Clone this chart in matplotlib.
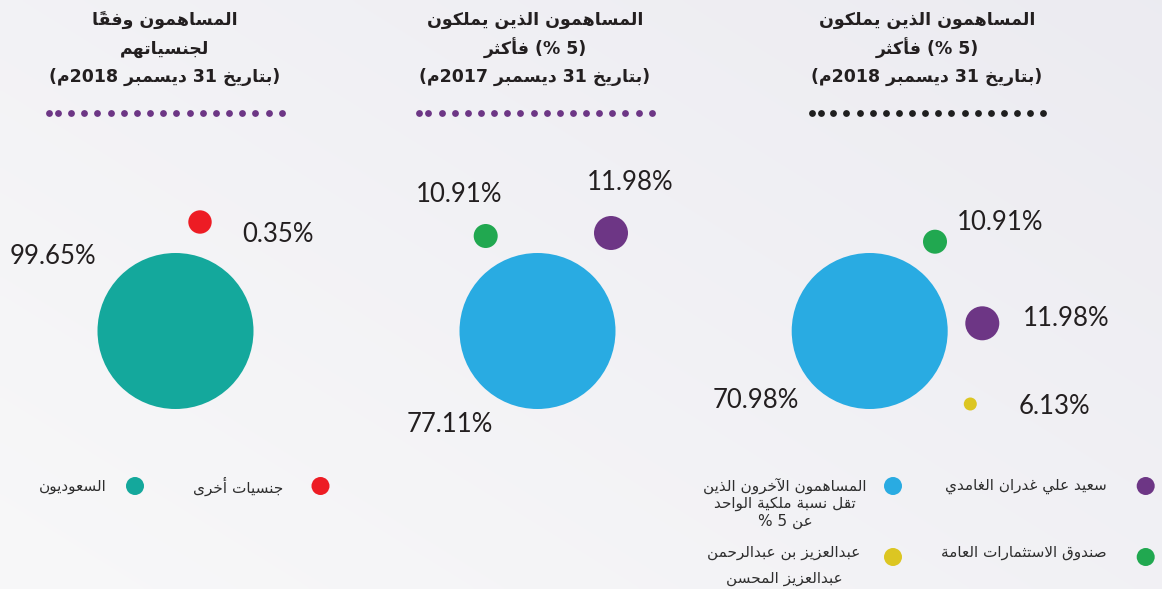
import numpy as np
import matplotlib
matplotlib.use("Agg")
import matplotlib.pyplot as plt
from matplotlib.patches import Circle

# --- data -------------------------------------------------------------
nat_labels = ["السعوديون", "جنسيات أخرى"]
nat_values = [99.65, 0.35]

own17_labels = ["المساهمون الآخرون الذين تقل نسبة ملكية الواحد عن 5 %",
                "صندوق الاستثمارات العامة", "سعيد علي غدران الغامدي"]
own17_values = [77.11, 10.91, 11.98]

own18_labels = ["المساهمون الآخرون الذين تقل نسبة ملكية الواحد عن 5 %",
                "صندوق الاستثمارات العامة", "سعيد علي غدران الغامدي",
                "عبدالعزيز بن عبدالرحمن عبدالعزيز المحسن"]
own18_values = [70.98, 10.91, 11.98, 6.13]

titles = [
    ["المساهمون وفقاً", "لجنسياتهم", "(بتاريخ 31 ديسمبر 2018م)"],
    ["المساهمون الذين يملكون", "(5 %) فأكثر", "(بتاريخ 31 ديسمبر 2017م)"],
    ["المساهمون الذين يملكون", "(5 %) فأكثر", "(بتاريخ 31 ديسمبر 2018م)"],
]

# --- styling / layout (pixel units) ------------------------------------
TEAL, RED, BLUE = "#14a89c", "#ed1c24", "#29abe2"
GREEN, PURPLE, YELLOW = "#21a850", "#6d3685", "#dcc622"
INK = "#231f20"

nat_colors = [TEAL, RED]
nat_bubbles = [(175.5, 331, 78), (200, 222, 11.7)]
nat_texts = [(10, 256), (242, 235)]

own17_colors = [BLUE, GREEN, PURPLE]
own17_bubbles = [(537.5, 331, 78), (485.7, 236, 12), (611, 233, 17)]
own17_texts = [(407, 424), (416, 194), (587, 183)]

own18_colors = [BLUE, GREEN, PURPLE, YELLOW]
own18_bubbles = [(869.7, 331, 78), (935, 241.7, 12), (982.3, 323.3, 17), (970.3, 404, 6.5)]
own18_texts = [(713, 401), (957, 223), (1023, 318), (1019, 406)]


# --- minimal arabic shaping for a renderer without text layout ----------
DUAL = {"ب": 0xFE8F, "ت": 0xFE95, "ث": 0xFE99, "ج": 0xFE9D, "ح": 0xFEA1,
        "خ": 0xFEA5, "س": 0xFEB1, "ش": 0xFEB5, "ص": 0xFEB9, "ع": 0xFEC9,
        "غ": 0xFECD, "ف": 0xFED1, "ق": 0xFED5, "ك": 0xFED9, "ل": 0xFEDD,
        "م": 0xFEE1, "ن": 0xFEE5, "ه": 0xFEE9, "ي": 0xFEF1}
RIGHT = {"آ": 0xFE81, "أ": 0xFE83, "إ": 0xFE87, "ا": 0xFE8D, "ة": 0xFE93,
         "د": 0xFEA9, "ذ": 0xFEAB, "ر": 0xFEAD, "ز": 0xFEAF, "و": 0xFEED,
         "ى": 0xFEEF}
LAM_ALEF = {"آ": 0xFEF5, "أ": 0xFEF7, "إ": 0xFEF9, "ا": 0xFEFB}
MIRROR = {"(": ")", ")": "("}


def rtl(line):
    units = []  # [code or char, joining type, marks]
    i = 0
    while i < len(line):
        ch = line[i]
        if 0x064B <= ord(ch) <= 0x0652 and units:
            units[-1][2] += ch
        elif ch == "ل" and i + 1 < len(line) and line[i + 1] in LAM_ALEF:
            units.append([LAM_ALEF[line[i + 1]], "R", ""])
            i += 1
        elif ch in DUAL:
            units.append([DUAL[ch], "D", ""])
        elif ch in RIGHT:
            units.append([RIGHT[ch], "R", ""])
        elif ch.isdigit() and units and units[-1][1] == "N":
            units[-1][0] += ch
        elif ch.isdigit():
            units.append([ch, "N", ""])
        else:
            units.append([MIRROR.get(ch, ch), None, ""])
        i += 1

    out = []
    for k, (c, jt, marks) in enumerate(units):
        if jt in ("D", "R"):
            prev = k > 0 and units[k - 1][1] == "D"
            nxt = jt == "D" and k + 1 < len(units) and units[k + 1][1] in ("D", "R")
            if jt == "D":
                off = 3 if prev and nxt else 1 if prev else 2 if nxt else 0
            else:
                off = 1 if prev else 0
            out.append(chr(c + off) + marks)
        else:
            out.append(c)
    return "".join(reversed(out))


AR = ["DejaVu Sans"]
NUM = ["Lato", "DejaVu Sans"]

fig = plt.figure(figsize=(11.62, 5.89), dpi=100)
bg = fig.add_axes([0, 0, 1, 1])
grad = np.linspace(0, 1, 256)
gx, gy = np.meshgrid(grad, grad)
shade = 0.55 * gx + 0.45 * (1 - gy)
c0 = np.array([0.972, 0.972, 0.976])
c1 = np.array([0.925, 0.922, 0.945])
img = c0 + shade[..., None] * (c1 - c0)
bg.imshow(img, extent=[0, 1162, 589, 0], aspect="auto", interpolation="bicubic")
bg.axis("off")

ax = fig.add_axes([0, 0, 1, 1])
ax.set_xlim(0, 1162)
ax.set_ylim(589, 0)
ax.axis("off")
ax.patch.set_alpha(0)

# titles with dotted rules underneath
centers = [165, 535, 927]
dot_spans = [(49.3, 58.3, 71, 281.7), (419.3, 428.3, 441.7, 651.7), (811.7, 820.7, 833.3, 1043.3)]
dot_colors = [PURPLE, PURPLE, "#1f1f1f"]
for cx, lines, span, dc in zip(centers, titles, dot_spans, dot_colors):
    for j, ln in enumerate(lines):
        ax.text(cx, 20 + j * 28.5, rtl(ln), ha="center", va="center",
                fontsize=12.5, fontweight="bold", family=AR, color=INK)
    xs = np.concatenate([[span[0], span[1]], np.linspace(span[2], span[3], 17)])
    ax.scatter(xs, np.full(len(xs), 113), s=24, color=dc, linewidths=0)


def bubbles(values, colors, spots, texts):
    for v, col, (x, y, r), (tx, ty) in zip(values, colors, spots, texts):
        ax.add_patch(Circle((x, y), r, color=col, lw=0))
        ax.text(tx, ty, f"{v:.2f}%", ha="left", va="center", fontsize=18.5,
                family=NUM, color=INK)


bubbles(nat_values, nat_colors, nat_bubbles, nat_texts)
bubbles(own17_values, own17_colors, own17_bubbles, own17_texts)
bubbles(own18_values, own18_colors, own18_bubbles, own18_texts)

# legends
leg_kw = dict(fontsize=11, family=AR, color="#2e2e2e", va="center")
ax.add_patch(Circle((320.5, 486), 9, color=nat_colors[1], lw=0))
ax.text(283, 486, rtl(nat_labels[1]), ha="right", **leg_kw)
ax.add_patch(Circle((135, 486), 9, color=nat_colors[0], lw=0))
ax.text(107, 486, rtl(nat_labels[0]), ha="right", **leg_kw)

ax.add_patch(Circle((1145.7, 486), 9, color=own18_colors[2], lw=0))
ax.text(1107, 486, rtl(own18_labels[2]), ha="right", **leg_kw)
ax.add_patch(Circle((1145.7, 557), 9, color=own18_colors[1], lw=0))
ax.text(1107, 552, rtl(own18_labels[1]), ha="right", **leg_kw)

blue_lines = ["المساهمون الآخرون الذين", "تقل نسبة ملكية الواحد", "عن 5 %"]
ax.add_patch(Circle((893, 486), 9, color=own18_colors[0], lw=0))
for j, ln in enumerate(blue_lines):
    ax.text(785, 486 + j * 17.5, rtl(ln), ha="center", **leg_kw)

yellow_lines = ["عبدالعزيز بن عبدالرحمن", "عبدالعزيز المحسن"]
ax.add_patch(Circle((893, 557), 9, color=own18_colors[3], lw=0))
for j, ln in enumerate(yellow_lines):
    ax.text(784, 553 + j * 25, rtl(ln), ha="center", **leg_kw)

fig.savefig("out.png", dpi=100)
